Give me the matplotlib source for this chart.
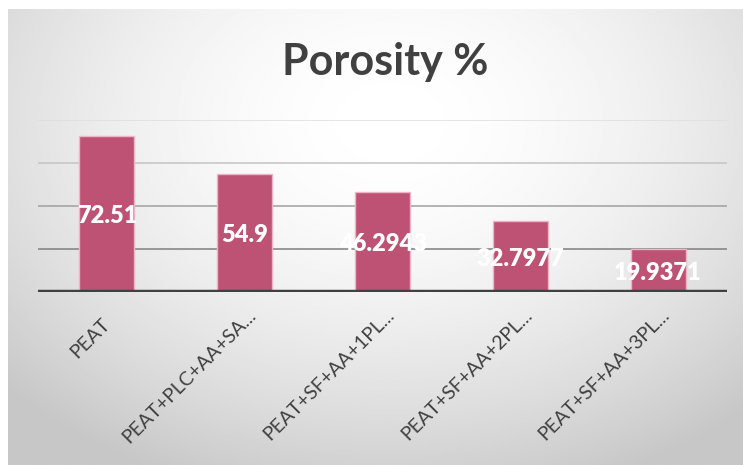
import matplotlib.pyplot as plt
import matplotlib.transforms as mtransforms
import numpy as np

categories = ["PEAT", "PEAT+PLC+AA+SA...", "PEAT+SF+AA+1PL...",
              "PEAT+SF+AA+2PL...", "PEAT+SF+AA+3PL..."]
porosity = [72.51, 54.9, 46.2943, 32.7977, 19.9371]
value_labels = ["72.51", "54.9", "46.2943", "32.7977", "19.9371"]
grid_levels = [20, 40, 60, 80]

plt.rcParams['font.family'] = ['Lato', 'DejaVu Sans']

W, H = 743, 465
fig = plt.figure(figsize=(W / 100, H / 100), dpi=100)
fig.patch.set_facecolor('white')

# gradient background of the chart area (white centre, grey edges)
bg = fig.add_axes([8 / W, 0, 1 - 8 / W, 1 - 9 / H])
yy, xx = np.mgrid[0:1:300j, 0:1:480j]
r = np.sqrt(((xx - 0.52) / 0.72) ** 2 + ((yy - 0.25) / 0.85) ** 2)
shade = 1.0 - 0.22 * np.clip(r, 0, 1) ** 1.8
bg.imshow(shade, cmap='gray', vmin=0, vmax=1, aspect='auto',
          extent=[0, 1, 1, 0], interpolation='bilinear')
bg.set_axis_off()
bg.set_zorder(0)

ax = fig.add_axes([38 / W, (H - 292) / H, 689 / W, 172 / H])
ax.set_zorder(1)
ax.patch.set_alpha(0)

x = np.arange(len(categories))
grid_colors = ['#7f7f7f', '#a0a0a0', '#c4c4c4', '#dedede']
for lvl, c in zip(grid_levels, grid_colors):
    ax.axhline(lvl, color=c, lw=1.1, zorder=1)
ax.axhline(0, color='#404040', lw=3.2, zorder=4)

bars = ax.bar(x, porosity, width=0.4, color='#bd5275',
              edgecolor='#eeb3c6', linewidth=1.0, zorder=3)
for xi, v, lab in zip(x, porosity, value_labels):
    ax.text(xi, v / 2, lab, ha='center', va='center_baseline', color='white',
            fontsize=17, fontweight='heavy', zorder=5)

ax.set_xlim(-0.5, 4.5)
ax.set_ylim(0, 80)
ax.set_yticks([])
ax.set_xticks(x)
ax.set_xticklabels(categories, rotation=45, ha='right',
                   rotation_mode='anchor', fontsize=14, color='#404040')
ax.tick_params(axis='x', length=0, pad=3)
for s in ax.spines.values():
    s.set_visible(False)

# nudge the rotated labels the way Excel places them
for i, lbl in enumerate(ax.get_xticklabels()):
    dx, dy = (2, -7) if i > 0 else (-4, -14)
    off = mtransforms.ScaledTranslation(dx / 72, dy / 72, fig.dpi_scale_trans)
    lbl.set_transform(lbl.get_transform() + off)

fig.text(385 / W, 1 - 62 / H, "Porosity %", ha='center', va='center',
         fontsize=31, fontweight='bold', color='#404040')

fig.savefig('out.png', dpi=100)
